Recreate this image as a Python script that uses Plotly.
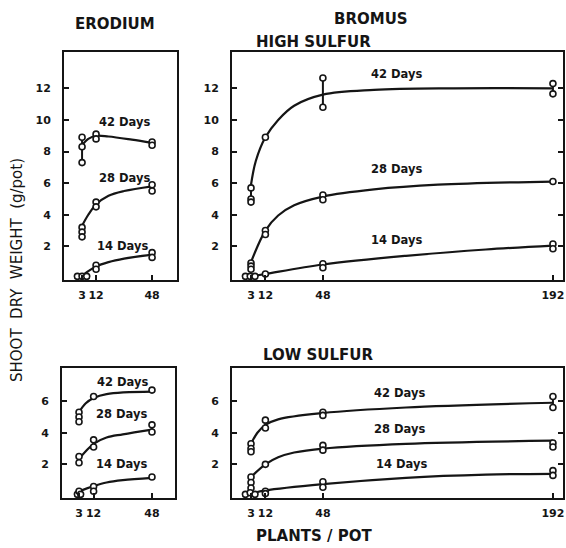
import plotly.graph_objects as go

# ---------------- DATA ----------------
# Tick values / labels
ERO_XTICKS = [3, 12, 48]
BRO_XTICKS = [3, 12, 48, 192]
HI_YTICKS = [2, 4, 6, 8, 10, 12]
LO_YTICKS = [2, 4, 6]
GROWTH_LABELS = ["42 Days", "28 Days", "14 Days"]

# Erodium, high sulfur: replicate points (x = plants/pot, y = g/pot)
ERO_HI_42_X = [3, 3, 3, 12, 12, 48, 48]
ERO_HI_42_Y = [8.9, 8.3, 7.3, 9.1, 8.8, 8.6, 8.4]
ERO_HI_28_X = [3, 3, 3, 12, 12, 48, 48]
ERO_HI_28_Y = [3.2, 2.9, 2.6, 4.8, 4.5, 5.9, 5.5]
ERO_HI_14_X = [0, 3, 6, 12, 12, 48, 48]
ERO_HI_14_Y = [0.1, 0.1, 0.1, 0.8, 0.55, 1.6, 1.3]
# fitted curves
ERO_HI_42_CX = [3, 7, 12, 20, 35, 48]
ERO_HI_42_CY = [8.4, 8.8, 9.0, 8.95, 8.75, 8.55]
ERO_HI_28_CX = [3, 7, 12, 20, 30, 48]
ERO_HI_28_CY = [3.3, 4.0, 4.65, 5.2, 5.5, 5.8]
ERO_HI_14_CX = [3, 12, 20, 30, 48]
ERO_HI_14_CY = [0.15, 0.72, 1.0, 1.22, 1.48]

# Bromus, high sulfur
BRO_HI_42_X = [3, 3, 3, 12, 48, 48, 192, 192]
BRO_HI_42_Y = [5.7, 5.0, 4.8, 8.9, 12.65, 10.8, 12.3, 11.65]
BRO_HI_28_X = [3, 3, 3, 12, 12, 48, 48, 192]
BRO_HI_28_Y = [0.95, 0.75, 0.55, 3.0, 2.75, 5.25, 4.95, 6.1]
BRO_HI_14_X = [-0.5, 2.5, 5.5, 12, 48, 48, 192, 192]
BRO_HI_14_Y = [0.1, 0.1, 0.1, 0.25, 0.9, 0.65, 2.15, 1.85]
BRO_HI_42_CX = [3, 6, 12, 20, 30, 48, 80, 130, 192]
BRO_HI_42_CY = [5.9, 7.4, 8.9, 10.0, 10.9, 11.6, 11.9, 12.0, 12.0]
BRO_HI_28_CX = [3, 12, 20, 30, 48, 80, 120, 192]
BRO_HI_28_CY = [1.0, 3.0, 3.95, 4.6, 5.15, 5.6, 5.9, 6.1]
BRO_HI_14_CX = [3, 12, 48, 100, 150, 192]
BRO_HI_14_CY = [0.1, 0.25, 0.85, 1.4, 1.8, 2.05]

# Erodium, low sulfur
ERO_LO_42_X = [3, 3, 3, 12, 48]
ERO_LO_42_Y = [5.3, 5.0, 4.7, 6.3, 6.7]
ERO_LO_28_X = [3, 3, 12, 12, 48, 48]
ERO_LO_28_Y = [2.5, 2.1, 3.55, 3.1, 4.5, 4.05]
ERO_LO_14_X = [2, 3, 4, 12, 12, 48]
ERO_LO_14_Y = [0.1, 0.3, 0.1, 0.6, 0.3, 1.2]
ERO_LO_42_CX = [3, 7, 12, 20, 48]
ERO_LO_42_CY = [5.3, 5.85, 6.2, 6.45, 6.6]
ERO_LO_28_CX = [3, 12, 20, 30, 48]
ERO_LO_28_CY = [2.35, 3.3, 3.7, 3.9, 4.2]
ERO_LO_14_CX = [3, 12, 20, 30, 48]
ERO_LO_14_CY = [0.3, 0.62, 0.85, 1.0, 1.15]

# Bromus, low sulfur
BRO_LO_42_X = [3, 3, 3, 12, 12, 48, 48, 192, 192]
BRO_LO_42_Y = [3.3, 3.0, 2.8, 4.8, 4.3, 5.3, 5.1, 6.3, 5.6]
BRO_LO_28_X = [3, 3, 3, 12, 48, 48, 192, 192]
BRO_LO_28_Y = [1.2, 0.85, 0.5, 2.0, 3.2, 2.9, 3.35, 3.1]
BRO_LO_14_X = [-0.5, 2.5, 5.5, 12, 12, 48, 48, 192, 192]
BRO_LO_14_Y = [0.1, 0.2, 0.1, 0.3, 0.15, 0.9, 0.55, 1.6, 1.3]
BRO_LO_42_CX = [3, 7, 12, 20, 48, 100, 192]
BRO_LO_42_CY = [3.3, 4.0, 4.5, 4.85, 5.25, 5.6, 5.9]
BRO_LO_28_CX = [3, 12, 20, 30, 48, 100, 192]
BRO_LO_28_CY = [1.2, 2.0, 2.45, 2.75, 3.0, 3.3, 3.5]
BRO_LO_14_CX = [3, 12, 48, 100, 150, 192]
BRO_LO_14_CY = [0.15, 0.35, 0.75, 1.15, 1.35, 1.4]

# Label anchor positions (data units) for growth-period labels
ERO_HI_LBL_X = [30, 30, 29]
ERO_HI_LBL_Y = [9.9, 6.35, 2.0]
BRO_HI_LBL_X = [94, 94, 94]
BRO_HI_LBL_Y = [12.9, 6.9, 2.4]
ERO_LO_LBL_X = [30, 29, 29]
ERO_LO_LBL_Y = [7.2, 5.2, 2.0]
BRO_LO_LBL_X = [96, 96, 97]
BRO_LO_LBL_Y = [6.5, 4.25, 2.0]

# ---------------- FIGURE ----------------
INK = "#151515"
FONT = "DejaVu Sans"
W, H = 566, 548

fig = go.Figure()


def px_dom(a, b, total):
    return [a / total, b / total]


def py_dom(top, bottom):
    return [1 - bottom / H, 1 - top / H]


panels = [
    ("", [(ERO_HI_42_X, ERO_HI_42_Y, ERO_HI_42_CX, ERO_HI_42_CY),
          (ERO_HI_28_X, ERO_HI_28_Y, ERO_HI_28_CX, ERO_HI_28_CY),
          (ERO_HI_14_X, ERO_HI_14_Y, ERO_HI_14_CX, ERO_HI_14_CY)],
     ERO_HI_LBL_X, ERO_HI_LBL_Y),
    ("2", [(BRO_HI_42_X, BRO_HI_42_Y, BRO_HI_42_CX, BRO_HI_42_CY),
           (BRO_HI_28_X, BRO_HI_28_Y, BRO_HI_28_CX, BRO_HI_28_CY),
           (BRO_HI_14_X, BRO_HI_14_Y, BRO_HI_14_CX, BRO_HI_14_CY)],
     BRO_HI_LBL_X, BRO_HI_LBL_Y),
    ("3", [(ERO_LO_42_X, ERO_LO_42_Y, ERO_LO_42_CX, ERO_LO_42_CY),
           (ERO_LO_28_X, ERO_LO_28_Y, ERO_LO_28_CX, ERO_LO_28_CY),
           (ERO_LO_14_X, ERO_LO_14_Y, ERO_LO_14_CX, ERO_LO_14_CY)],
     ERO_LO_LBL_X, ERO_LO_LBL_Y),
    ("4", [(BRO_LO_42_X, BRO_LO_42_Y, BRO_LO_42_CX, BRO_LO_42_CY),
           (BRO_LO_28_X, BRO_LO_28_Y, BRO_LO_28_CX, BRO_LO_28_CY),
           (BRO_LO_14_X, BRO_LO_14_Y, BRO_LO_14_CX, BRO_LO_14_CY)],
     BRO_LO_LBL_X, BRO_LO_LBL_Y),
]

annotations = []
for suffix, series, lx, ly in panels:
    xa, ya = "x" + suffix, "y" + suffix
    for (px_, py_, cx, cy) in series:
        fig.add_trace(go.Scatter(x=cx, y=cy, mode="lines", xaxis=xa, yaxis=ya,
                                 line=dict(color=INK, width=2.2, shape="spline", smoothing=1.0),
                                 hoverinfo="skip", showlegend=False))
        groups = {}
        for xv, yv in zip(px_, py_):
            groups.setdefault(xv, []).append(yv)
        bx, by = [], []
        for xv, ys in groups.items():
            if len(ys) > 1:
                bx += [xv, xv, None]
                by += [min(ys), max(ys), None]
        if bx:
            fig.add_trace(go.Scatter(x=bx, y=by, mode="lines", xaxis=xa, yaxis=ya,
                                     line=dict(color=INK, width=2),
                                     hoverinfo="skip", showlegend=False))
        fig.add_trace(go.Scatter(x=px_, y=py_, mode="markers", xaxis=xa, yaxis=ya,
                                 marker=dict(symbol="circle", size=6, color="white",
                                             line=dict(color=INK, width=1.6)),
                                 showlegend=False))
    for txt, xv, yv in zip(GROWTH_LABELS, lx, ly):
        annotations.append(dict(text=txt, x=xv, y=yv, xref=xa, yref=ya, showarrow=False,
                                font=dict(family=FONT, size=11.5, color=INK, weight="bold"),
                                xanchor="center", yanchor="middle"))

axis_common = dict(showgrid=False, zeroline=False, showline=True, linecolor=INK, linewidth=2,
                   ticks="inside", ticklen=5, tickwidth=1.6, tickcolor=INK,
                   ticklabeloverflow="allow",
                   tickfont=dict(family=FONT, size=11, color=INK, weight="bold"))
xcommon = dict(tickangle=0, ticklabelstandoff=4, **axis_common)
ycommon = dict(ticklabelstandoff=9, **axis_common)

layout = dict(
    width=W, height=H, margin=dict(l=0, r=0, t=0, b=0),
    paper_bgcolor="white", plot_bgcolor="white",
    xaxis=dict(domain=px_dom(64, 177, W), range=[-8.6, 64], anchor="y",
               tickvals=ERO_XTICKS, mirror=True, **xcommon),
    yaxis=dict(domain=py_dom(52, 280), range=[-0.13, 14.3], anchor="x",
               tickvals=HI_YTICKS, mirror=True, **ycommon),
    xaxis2=dict(domain=px_dom(232, 563, W), range=[-8.9, 198.3], anchor="y2",
                tickvals=BRO_XTICKS, mirror=True, **xcommon),
    yaxis2=dict(domain=py_dom(52, 280), range=[-0.13, 14.3], anchor="x2",
                tickvals=HI_YTICKS, mirror="ticks", **ycommon),
    xaxis3=dict(domain=px_dom(62, 175, W), range=[-7.5, 62.2], anchor="y3",
                tickvals=ERO_XTICKS, mirror=True, **xcommon),
    yaxis3=dict(domain=py_dom(368, 498), range=[-0.13, 8.1], anchor="x3",
                tickvals=LO_YTICKS, mirror=True, **ycommon),
    xaxis4=dict(domain=px_dom(232, 563, W), range=[-8.9, 198.3], anchor="y4",
                tickvals=BRO_XTICKS, mirror=True, **xcommon),
    yaxis4=dict(domain=py_dom(368, 498), range=[-0.13, 8.1], anchor="x4",
                tickvals=LO_YTICKS, mirror="ticks", **ycommon),
)

title_font = dict(family=FONT, size=15, color=INK, weight="bold")
annotations += [
    dict(text="ERODIUM", x=115 / W, y=1 - 23.5 / H, xref="paper", yref="paper",
         showarrow=False, font=title_font, xanchor="center", yanchor="middle"),
    dict(text="BROMUS", x=371 / W, y=1 - 19 / H, xref="paper", yref="paper",
         showarrow=False, font=title_font, xanchor="center", yanchor="middle"),
    dict(text="HIGH SULFUR", x=254 / W, y=1 - 42 / H, xref="paper", yref="paper",
         showarrow=False, font=title_font, xanchor="left", yanchor="middle"),
    dict(text="LOW SULFUR", x=261 / W, y=1 - 355 / H, xref="paper", yref="paper",
         showarrow=False, font=title_font, xanchor="left", yanchor="middle"),
    dict(text="PLANTS / POT", x=254 / W, y=1 - 536 / H, xref="paper", yref="paper",
         showarrow=False, font=title_font, xanchor="left", yanchor="middle"),
    dict(text="SHOOT\u00a0\u00a0DRY\u00a0\u00a0WEIGHT\u00a0\u00a0(g/pot)", x=17 / W, y=1 - 270 / H,
         xref="paper", yref="paper", showarrow=False, textangle=-90,
         font=dict(family=FONT, size=15, color=INK), xanchor="center", yanchor="middle"),
]
layout["annotations"] = annotations

fig.update_layout(**layout)
fig.write_html("out.html")
